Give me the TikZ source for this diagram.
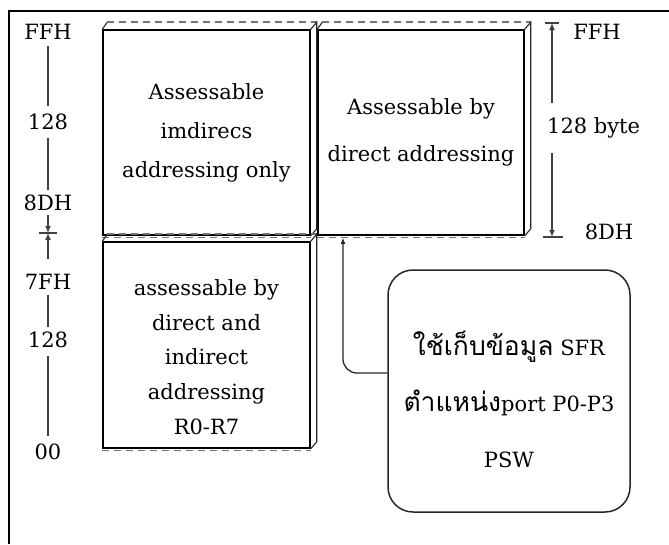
\documentclass[tikz,border=0pt]{standalone}
\usepackage{fontspec}
\setmainfont{DejaVu Serif}
\newfontfamily\thaifont[Script=Thai]{Loma}
\usetikzlibrary{arrows.meta}
\tikzset{
  frontbox/.style={draw=black, line width=1.5pt, minimum width=207pt, inner sep=0pt},
  face/.style={draw=black!85, line width=1.1pt},
  dashedge/.style={draw=black!55, line width=1.6pt, dash pattern=on 7pt off 5pt},
  scaleline/.style={draw=black!75, line width=1.4pt},
  tipped/.style={-{Latex[length=7pt,width=6pt]}},
  lbl/.style={font=\fontsize{21}{24}\selectfont, inner sep=0pt},
  boxtext/.style={align=center, inner sep=0pt},
  callout/.style={draw=black!85, line width=1.5pt, rounded corners=25pt, minimum width=242pt, minimum height=242pt, inner sep=0pt},
  frame/.style={draw=black, line width=2pt}
}
\newcommand{\cubefaces}[1]{%
  \draw[face] (#1.north west) -- ([shift={(5,-7)}]#1.north west);
  \draw[dashedge] ([shift={(5,-7)}]#1.north west) -- ([shift={(6,-7)}]#1.north east);
  \draw[face] (#1.north east) -- ([shift={(6,-7)}]#1.north east) -- ([shift={(6,-7)}]#1.south east) -- (#1.south east);
  \draw[dashedge, line width=1.2pt] ([yshift=-2pt]#1.south west) -- ([yshift=-2pt]#1.south east);
}
\begin{document}
\begin{tikzpicture}[x=1pt,y=-1pt]
\useasboundingbox (0,0) rectangle (669,544);
% outer frame
\coordinate (fbl) at (9,544);
\coordinate (ftl) at (9,11);
\coordinate (ftr) at (669,11);
\draw[frame] (fbl) -- (ftl) -- (ftr);

% boxes
\node[frontbox, minimum height=205pt] (b1) at (206.5,132.5) {};
\node[frontbox, minimum height=205pt, minimum width=206pt] (b2) at (421,132.5) {};
\node[frontbox, minimum height=206pt] (b3) at (206.5,345) {};
\cubefaces{b1}
\cubefaces{b2}
\cubefaces{b3}

\node[boxtext, font=\fontsize{21}{39}\selectfont] (t1) at (b1.center) {Assessable\\imdirecs\\addressing only};
\node[boxtext, font=\fontsize{21}{47}\selectfont] (t2) at (b2.center) {Assessable by\\direct addressing};
\node[boxtext, font=\fontsize{21}{34.75}\selectfont] (t3) at ([yshift=-12pt]b3.center) {assessable by\\direct and\\indirect\\addressing\\R0-R7};

% left scale
\node[lbl] (lffh) at (48,32) {FFH};
\node[lbl] (l128a) at (48,122) {128};
\node[lbl] (l8dh) at (48,203) {8DH};
\node[lbl] (l7fh) at (48,282) {7FH};
\node[lbl] (l128b) at (48,340) {128};
\node[lbl] (l00) at (48,452) {00};
\coordinate (tick) at (48,233);
\draw[scaleline, shorten <=6pt, shorten >=8pt] (lffh) -- (l128a);
\draw[scaleline, shorten <=8pt, shorten >=5pt] (l128a) -- (l8dh);
\draw[scaleline, tipped, shorten <=4pt] (l8dh.south) -- (tick);
\draw[scaleline, tipped, shorten <=15pt] (l7fh.north) -- (tick);
\draw[scaleline] ([xshift=-9pt]tick) -- ([xshift=9pt]tick);
\draw[scaleline, shorten <=5pt, shorten >=5pt] (l7fh) -- (l128b);
\draw[scaleline, shorten <=8pt, shorten >=8pt] (l128b) -- (l00);

% right scale
\coordinate (rtop) at (552,23);
\coordinate (rbot) at (552,237);
\node[lbl, anchor=west] (rbyte) at (547,128) {128 byte};
\node[lbl] (rffh) at (597,32) {FFH};
\node[lbl] (r8dh) at (609,232) {8DH};
\draw[scaleline, tipped] (rbyte.north -| rtop) ++(0,-14) -- (rtop);
\draw[scaleline, tipped] (rbyte.south -| rbot) ++(0,14) -- (rbot);
\draw[scaleline] ([xshift=-7pt]rtop) -- ([xshift=7pt]rtop);
\draw[scaleline] ([xshift=-9pt]rbot) -- ([xshift=11pt]rbot);

% callout
\node[callout] (co) at (509,391) {};
\node[boxtext, font=\fontsize{21}{56}\selectfont] (cot) at ([yshift=-8pt]co.center)
  {{\thaifont\fontsize{26.5}{56}\selectfont ใช้เก็บข้อมูล} SFR\\{\thaifont\fontsize{26.5}{56}\selectfont ตำแหน่ง}port P0-P3\\PSW};
\draw[draw=black!85, line width=1.3pt, rounded corners=14pt, -{Latex[length=6pt,width=5pt]}]
  ([yshift=18pt]co.west) -| ([xshift=-78pt,yshift=-2pt]b2.south);
\end{tikzpicture}
\end{document}
